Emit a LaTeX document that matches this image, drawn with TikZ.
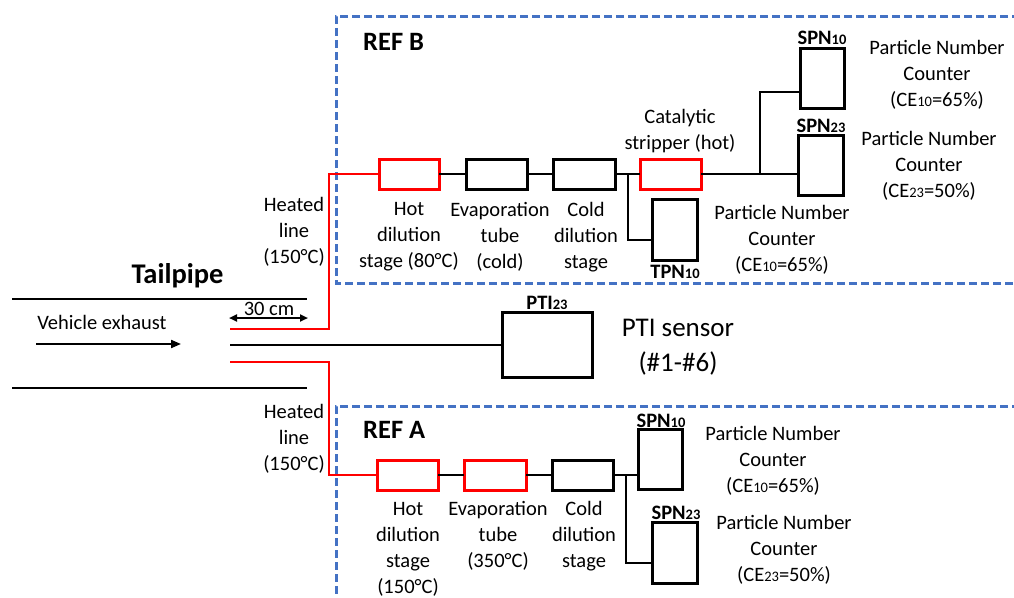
\documentclass[tikz,border=0pt]{standalone}
\usepackage{fontspec}
\setmainfont{Carlito}
\usetikzlibrary{arrows.meta}
\definecolor{refblue}{RGB}{68,114,196}
\definecolor{hotred}{RGB}{255,0,0}
\newcommand{\ix}[1]{{\fontsize{14.5}{14.5}\selectfont #1}}
\begin{document}
\begin{tikzpicture}[x=1pt,y=-1pt,
  unitbox/.style={draw, line width=3pt, inner sep=0pt, outer sep=0pt},
  hotbox/.style={unitbox, draw=hotred},
  txt/.style={align=center, font=\fontsize{20.5}{26}\selectfont, inner sep=0pt},
  lbl/.style={font=\fontsize{20.5}{24}\selectfont\bfseries, inner sep=0pt},
  conn/.style={line width=2pt},
  heat/.style={line width=2pt, draw=hotred},
  pipe/.style={line width=2.5pt},
  refbox/.style={draw=refblue, line width=3pt, dash pattern=on 8pt off 4pt}]
\useasboundingbox (0,0) rectangle (1014,597);
\clip (0,0) rectangle (1014,597);

% dashed frames
\draw[refbox] (1020,16) -- (336,16) -- (336,283) -- (1020,283);
\draw[refbox] (1020,406) -- (336,406) -- (336,605);
\node[font=\fontsize{26.5}{30}\selectfont\bfseries, anchor=base west, inner sep=0pt] (refB) at (363,50) {REF B};
\node[font=\fontsize{26.5}{30}\selectfont\bfseries, anchor=base west, inner sep=0pt] (refA) at (363,438) {REF A};

% tailpipe
\draw[pipe] (12,299) -- (307,299);
\draw[pipe] (12,388) -- (307,388);
\node[font=\fontsize{28.5}{32}\selectfont\bfseries, anchor=base, inner sep=0pt] (tail) at (177.5,283) {Tailpipe};
\node[txt] (veh) at (102,322) {Vehicle exhaust};
\coordinate (exS) at (36,344);
\coordinate (exE) at (181,344);
\draw[conn, -{Triangle[length=10pt,width=8pt]}] (exS) -- (exE);
\coordinate (cmL) at (229,318);
\coordinate (cmR) at (308,318);
\draw[conn, {Triangle[length=8pt,width=7pt]}-{Triangle[length=8pt,width=7pt]}] (cmL) -- (cmR);
\node[txt] (cm) at (269,309) {30 cm};

% taps
\coordinate (tapB) at (230,329);
\coordinate (bendB) at (329,329);
\coordinate (tapM) at (230,344.5);
\coordinate (tapA) at (230,362);
\coordinate (bendA) at (329,362);

\node[txt] (heatB) at (294,232) {Heated\\line\\(150°C)};
\node[txt] (heatA) at (294,439) {Heated\\line\\(150°C)};

% REF B chain
\node[hotbox, minimum width=60, minimum height=30] (hotB) at (409,174) {};
\node[unitbox, minimum width=61, minimum height=30] (evapB) at (496.5,174) {};
\node[unitbox, minimum width=62, minimum height=30] (coldB) at (584,174) {};
\node[hotbox, minimum width=61, minimum height=30] (catB) at (670.5,174) {};
\node[unitbox, minimum width=45, minimum height=61] (tpn) at (674.5,229.5) {};
\node[unitbox, minimum width=44, minimum height=60] (spn10B) at (822,78) {};
\node[unitbox, minimum width=45, minimum height=60] (spn23B) at (820.5,165) {};

\draw[heat] (tapB) -- (bendB) |- (hotB.west);
\draw[conn] (hotB.east) -- (evapB.west);
\draw[conn] (evapB.east) -- (coldB.west);
\draw[conn] (coldB.east) -- (catB.west);
\coordinate (jB) at (628,174);
\coordinate (jB2) at (628,240);
\draw[conn] (jB) -- (jB2) -- (tpn.west |- jB2);
\draw[conn] (catB.east) -- (spn23B.west |- catB.east);
\coordinate (kB) at (760,174);
\coordinate (kB2) at (760,92);
\draw[conn] (kB) -- (kB2) -- (spn10B.west |- kB2);

\node[txt] (tHotB) at (409,237) {Hot\\dilution\\stage (80°C)};
\node[txt] (tEvapB) at (500,237) {Evaporation\\tube\\(cold)};
\node[txt] (tColdB) at (586,237) {Cold\\dilution\\stage};
\node[txt] (tCat) at (680,131) {Catalytic\\stripper (hot)};
\node[lbl] (lTpn) at (675,272) {TPN\ix{10}};
\node[lbl] (lSpn10B) at (822,38) {SPN\ix{10}};
\node[lbl] (lSpn23B) at (821,126) {SPN\ix{23}};
\node[txt] (tSpn10B) at (937,75) {Particle Number\\Counter\\(CE\ix{10}=65\%)};
\node[txt] (tSpn23B) at (929,166) {Particle Number\\Counter\\(CE\ix{23}=50\%)};
\node[txt] (tTpn) at (782,240) {Particle Number\\Counter\\(CE\ix{10}=65\%)};

% PTI
\node[unitbox, minimum width=90, minimum height=65] (pti) at (547,344.5) {};
\draw[conn] (tapM) -- (pti.west);
\node[lbl] (lPti) at (547,303) {PTI\ix{23}};
\node[align=center, font=\fontsize{27}{35}\selectfont, inner sep=0pt] (tPti) at (678,347) {PTI sensor\\(\#1-\#6)};

% REF A chain
\node[hotbox, minimum width=61, minimum height=30] (hotA) at (407.5,475) {};
\node[hotbox, minimum width=62, minimum height=30] (evapA) at (495,475) {};
\node[unitbox, minimum width=61, minimum height=30] (coldA) at (582.5,475) {};
\node[unitbox, minimum width=44, minimum height=60] (spn10A) at (660,459) {};
\node[unitbox, minimum width=45, minimum height=61] (spn23A) at (674.5,552.5) {};

\draw[heat] (tapA) -- (bendA) |- (hotA.west);
\draw[conn] (hotA.east) -- (evapA.west);
\draw[conn] (evapA.east) -- (coldA.west);
\draw[conn] (coldA.east) -- (spn10A.west |- coldA.east);
\coordinate (jA) at (626,475);
\coordinate (jA2) at (626,563);
\draw[conn] (jA) -- (jA2) -- (spn23A.west |- jA2);

\node[txt] (tHotA) at (408,549) {Hot\\dilution\\stage\\(150°C)};
\node[txt] (tEvapA) at (498,536) {Evaporation\\tube\\(350°C)};
\node[txt] (tColdA) at (584,536) {Cold\\dilution\\stage};
\node[lbl] (lSpn10A) at (661,421) {SPN\ix{10}};
\node[lbl] (lSpn23A) at (676,513) {SPN\ix{23}};
\node[txt] (tSpn10A) at (773,461) {Particle Number\\Counter\\(CE\ix{10}=65\%)};
\node[txt] (tSpn23A) at (784,550) {Particle Number\\Counter\\(CE\ix{23}=50\%)};
\end{tikzpicture}
\end{document}
